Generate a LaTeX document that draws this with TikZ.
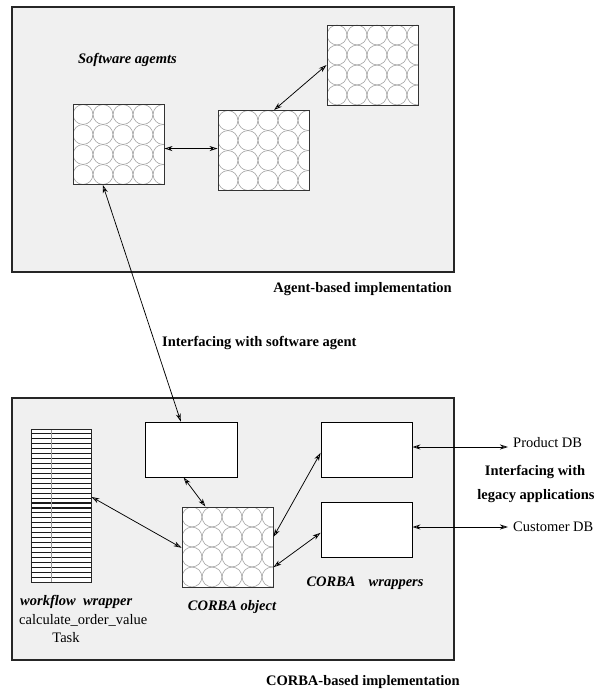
\documentclass[tikz,border=0pt]{standalone}
\usepackage{fontspec}
\setmainfont{Liberation Serif}
\usetikzlibrary{arrows.meta,calc}
\definecolor{panelgray}{RGB}{240,240,240}
\begin{document}
\begin{tikzpicture}[x=1pt,y=-1pt,
  panel/.style={draw=black!85, fill=panelgray, line width=1.1pt},
  circgrid/.style={draw=black!80, fill=white, line width=0.95pt, inner sep=0pt,
    minimum width=91pt, minimum height=80pt,
    path picture={\foreach \i in {0,...,4}{\foreach \j in {0,...,3}{
      \draw[black!38, line width=0.55pt]
        ([xshift={(\i+0.5)*20pt}, yshift={-(\j+0.5)*20pt}]path picture bounding box.north west)
        circle[radius=9.9pt];}}}},
  plainbox/.style={draw=black, fill=white, line width=0.9pt, inner sep=0pt,
    minimum width=91pt, minimum height=55pt},
  stripebox/.style={draw=black!85, fill=white, line width=0.9pt, inner sep=0pt,
    minimum width=60pt, minimum height=153pt,
    path picture={
      \foreach \k in {1,...,30}{
        \draw[black!90, line width=1.1pt]
          ([yshift={-\k*4.935pt}]path picture bounding box.north west) -- ++(60pt,0);}
      \draw[black!40, line width=0.5pt]
        ([xshift=20pt]path picture bounding box.north west) --
        ([xshift=20pt]path picture bounding box.south west);}},
  arr/.style={<->, >={Stealth[length=8pt,width=5pt,inset=2.5pt,open]}, line width=0.75pt, black},
  txt/.style={font=\fontsize{14.5}{17}\selectfont, inner sep=0pt},
  btxt/.style={font=\fontsize{14.5}{17}\selectfont\bfseries, inner sep=0pt},
  bitxt/.style={font=\fontsize{14.5}{17}\selectfont\bfseries\itshape, inner sep=0pt}]

\useasboundingbox[fill=white] (0,0) rectangle (596,692);

% panels
\draw[panel] (12,7) rectangle (454,272);
\draw[panel] (12,398) rectangle (454,660);

% agent side
\node[circgrid] (b1) at (118.5,144.5) {};
\node[circgrid] (b2) at (263.5,150.5) {};
\node[circgrid] (b3) at (372.5,65) {};
\node[bitxt] (sa) at (127.5,60) {Software agemts};

% CORBA side
\node[stripebox] (wf) at (61,505.5) {};
\node[plainbox, minimum width=92pt] (eb) at (191,449.5) {};
\node[circgrid] (co) at (227.5,547) {};
\node[plainbox] (pw) at (366.5,449.5) {};
\node[plainbox] (cw) at (366.5,529.5) {};

% connectors
\coordinate (a1) at ($(b1.north east)!0.55!(b1.south east)$);
\draw[arr] (a1) -- (a1 -| b2.west);
\draw[arr] ($(b2.north west)!0.615!(b2.north east)$) -- (b3.west);
\draw[arr] ($(b1.south west)!0.33!(b1.south east)$) -- ($(eb.north west)!0.39!(eb.north east)$);
\draw[arr] ($(eb.south west)!0.42!(eb.south east)$) -- ($(co.north west)!0.26!(co.north east)$);
\draw[arr] ($(wf.north east)!0.444!(wf.south east)$) -- ($(co.north west)!0.51!(co.south west)$);
\draw[arr] ($(pw.north west)!0.56!(pw.south west)$) -- ($(co.north east)!0.375!(co.south east)$);
\draw[arr] ($(cw.north west)!0.56!(cw.south west)$) -- ($(co.north east)!0.75!(co.south east)$);

\coordinate (pdb) at (508,447);
\coordinate (cdb) at (508,527);
\draw[arr] (pw.east |- pdb) -- (pdb);
\draw[arr] (cw.east |- cdb) -- (cdb);
\node[txt, anchor=west] (pdbt) at (513,443) {Product DB};
\node[txt, anchor=west] (cdbt) at (513,527) {Customer DB};

% labels
\node[btxt, anchor=east] (ab) at (452,289) {Agent-based implementation};
\node[btxt, anchor=west] (isa) at (162,343) {Interfacing with software agent};
\node[btxt] (il1) at (535,472) {Interfacing with};
\node[btxt] (il2) at (536,496) {legacy applications};
\node[bitxt] (cwl) at (365,583) {CORBA\hspace{0.9em}wrappers};
\node[bitxt] (col) at (232,607) {CORBA object};
\node[bitxt, anchor=west] (wfl1) at (20,602) {workflow\hspace{0.5em}wrapper};
\node[txt, anchor=west] (wfl2) at (19,620) {calculate\_order\_value};
\node[txt] (wfl3) at (66,638) {Task};
\node[btxt, anchor=east] (cb) at (460,682) {CORBA-based implementation};
\end{tikzpicture}
\end{document}
